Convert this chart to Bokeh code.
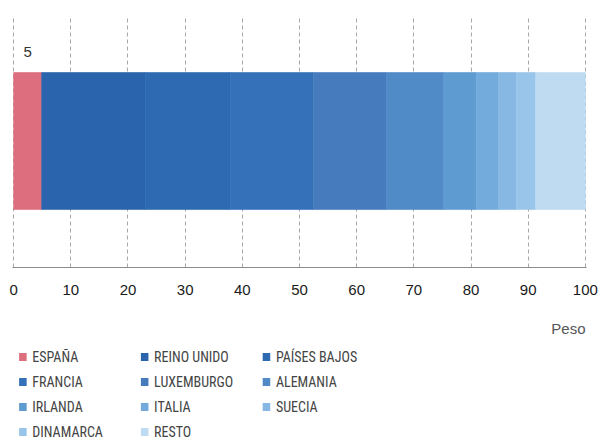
import numpy as np
from bokeh.plotting import figure
from bokeh.layouts import column
from bokeh.models import Range1d, FixedTicker, ColumnDataSource
from bokeh.core.properties import value
from bokeh.embed import file_html
from bokeh.resources import INLINE

# ---- data ----
countries = ["ESPAÑA", "REINO UNIDO", "PAÍSES BAJOS", "FRANCIA", "LUXEMBURGO",
             "ALEMANIA", "IRLANDA", "ITALIA", "SUECIA", "DINAMARCA", "RESTO"]
weights = [4.9, 18.1, 14.9, 14.5, 12.8, 10.0, 5.7, 3.9, 3.1, 3.4, 8.7]
colors = ["#dd6e7e", "#2a64ad", "#2d6ab2", "#3471b8", "#467bbd", "#508ac7",
          "#5d9bd1", "#72abdc", "#86b8e3", "#9ac5ea", "#bedbf2"]
x_ticks = [0, 10, 20, 30, 40, 50, 60, 70, 80, 90, 100]
x_title = "Peso"

FONT = "Liberation Sans"
NARROW = "Liberation Sans Narrow, Roboto Condensed, Roboto"

# ---- main chart ----
right = np.cumsum(weights)
left = right - np.array(weights)
src = ColumnDataSource(dict(left=left, right=right, y=[0] * len(weights),
                            color=colors, name=countries))

p = figure(width=608, height=320, output_backend="svg", toolbar_location=None,
           x_range=Range1d(-0.2, 100.2), y_range=Range1d(-0.923, 0.916),
           min_border_left=12, min_border_right=22, min_border_top=15,
           min_border_bottom=53, background_fill_color="white",
           border_fill_color="white", outline_line_color=None)

p.hbar(y="y", left="left", right="right", height=1, fill_color="color",
       line_color="color", line_width=0.6, source=src)

# label of the Spain segment
p.text(x=[weights[0] / 2], y=[0.5], text=[f"{weights[0]:.0f}"],
       text_align="center", text_baseline="middle", y_offset=-21,
       text_font=value(FONT), text_font_size="15px", text_color="#333333")

p.yaxis.visible = False
p.ygrid.grid_line_color = None
ax = p.xaxis[0]
ax.ticker = FixedTicker(ticks=x_ticks)
ax.minor_tick_line_color = None
ax.major_tick_line_color = None
ax.major_tick_out = 0
ax.major_tick_in = 0
ax.axis_line_color = "#8c8c8c"
ax.axis_line_width = 1
ax.fixed_location = None
ax.major_label_standoff = 17
ax.major_label_text_font = FONT
ax.major_label_text_font_size = "15px"
ax.major_label_text_color = "#1a1a1a"
p.xgrid.ticker = FixedTicker(ticks=x_ticks)
p.xgrid.grid_line_color = "#a8a8a8"
p.xgrid.grid_line_dash = "4 3"
p.xgrid.grid_line_width = 1

# ---- legend / title area (pixel coordinates) ----
H2 = 119
q = figure(width=608, height=H2, output_backend="svg", toolbar_location=None,
           x_range=Range1d(0, 608), y_range=Range1d(H2, 0),
           x_axis_type=None, y_axis_type=None,
           min_border=0, outline_line_color=None,
           background_fill_color="white", border_fill_color="white")
q.xgrid.visible = False
q.ygrid.visible = False

q.text(x=[607], y=[8], text=[x_title], text_align="right",
       text_baseline="middle", text_font=value(FONT),
       text_font_size="15px", text_color="#555555")

idx = np.arange(len(countries))
col = idx % 3
row = idx // 3
sq_x = 11 + col * 129
sq_y = 36.5 + row * 25
leg = ColumnDataSource(dict(sx=sq_x, sy=sq_y, tx=sq_x + 10, color=colors,
                            name=countries))
q.rect(x="sx", y="sy", width=8, height=8, color="color", line_color=None,
       source=leg)
q.text(x="tx", y="sy", text="name", text_baseline="middle",
       text_font=value(NARROW), text_font_size="14px",
       text_color="#444444", source=leg)

layout = column(p, q, spacing=0)
open("out.html", "w").write(file_html(layout, INLINE))
